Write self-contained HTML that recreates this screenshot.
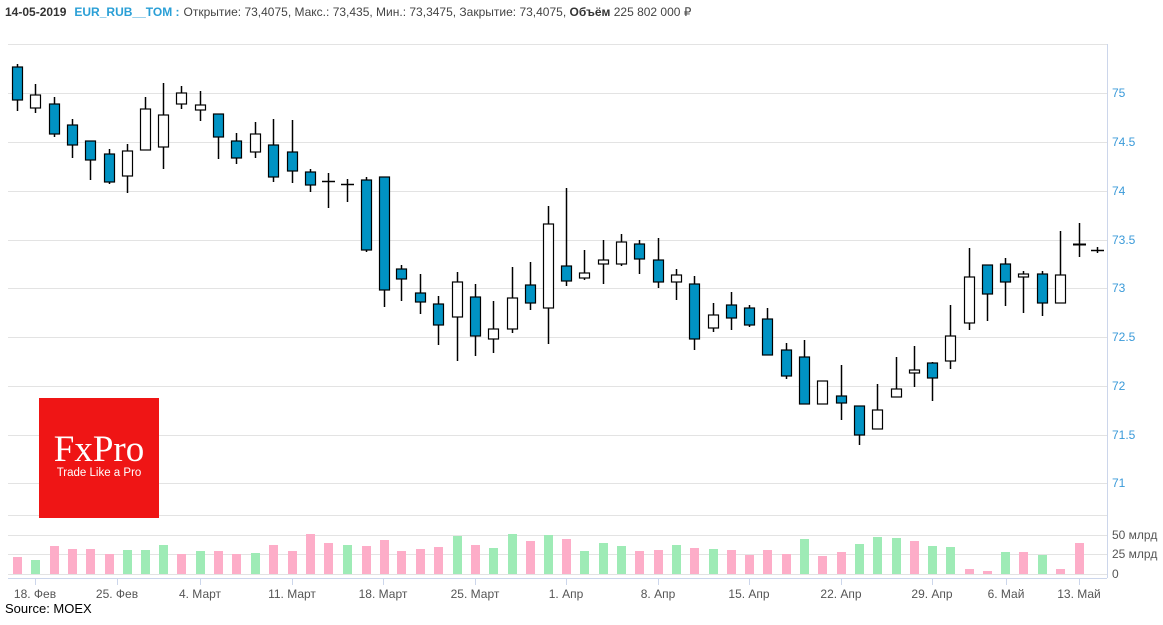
<!DOCTYPE html>
<html><head><meta charset="utf-8"><style>
body{margin:0;background:#fff;width:1163px;height:620px;overflow:hidden;font-family:"Liberation Sans",sans-serif}
</style></head><body>
<svg id="s" width="1163" height="620" xmlns="http://www.w3.org/2000/svg" font-family="Liberation Sans, sans-serif">
<text x="5" y="16" font-size="12" fill="#333"><tspan font-weight="bold">14-05-2019</tspan><tspan dx="8" font-weight="bold" fill="#2a9fd6">EUR_RUB__TOM :</tspan><tspan dx="4" fill="#444">Открытие: 73,4075, Макс.: 73,435, Мин.: 73,3475, Закрытие: 73,4075, </tspan><tspan font-weight="bold">Объём</tspan><tspan fill="#444"> 225 802 000 ₽</tspan></text>
<g id="grid" stroke="#e3e3e3" stroke-width="1"></g>
<line x1="1107.5" y1="44" x2="1107.5" y2="578" stroke="#ccd6eb"/>
<line x1="8" y1="578.5" x2="1107" y2="578.5" stroke="#ccd6eb"/>
<rect x="39" y="398" width="120" height="120" fill="#ef1515"/>
<text x="99" y="461" font-family="Liberation Serif, serif" font-size="37" fill="#fff" text-anchor="middle">FxPro</text>
<text x="99" y="476" font-size="11.5" fill="#fff" text-anchor="middle">Trade Like a Pro</text>
<g id="vol"></g>
<g id="c"></g>
<g id="lab" font-size="12" fill="#3a9ad9"></g>
<text x="5" y="613" font-size="13" fill="#000">Source: MOEX</text>
</svg>
<script>
var NS="http://www.w3.org/2000/svg";
function el(p,t,a,txt){var e=document.createElementNS(NS,t);for(var k in a)e.setAttribute(k,a[k]);if(txt)e.textContent=txt;document.getElementById(p).appendChild(e);return e;}
var gy=[44,93,142,191,240,288,337,386,435,483];
gy.forEach(function(y){el('grid','line',{x1:8,y1:y+.5,x2:1107,y2:y+.5});});
[515,535,554,574].forEach(function(y){el('grid','line',{x1:8,y1:y+.5,x2:1107,y2:y+.5});});
var pl=[["75",93],["74.5",142],["74",191],["73.5",240],["73",288],["72.5",337],["72",386],["71.5",435],["71",483]];
pl.forEach(function(p){el('lab','text',{x:1112,y:p[1]+4},p[0]);});
[["50 млрд",535],["25 млрд",554],["0",574]].forEach(function(p){el('lab','text',{x:1112,y:p[1]+4,fill:"#555"},p[0]);});
var xt=[["18. Фев",35],["25. Фев",117],["4. Март",200],["11. Март",292],["18. Март",383],["25. Март",475],["1. Апр",566],["8. Апр",658],["15. Апр",749],["22. Апр",841],["29. Апр",932],["6. Май",1006],["13. Май",1079]];
xt.forEach(function(t){el('lab','line',{x1:t[1]+.5,y1:578,x2:t[1]+.5,y2:585,stroke:"#ccd6eb"});el('lab','text',{x:t[1],y:598,"text-anchor":"middle",fill:"#555"},t[0]);});
var C=[[17,64,111,67,100,'b'],[35,84,113,95,108,'w'],[54,97,137,104,134,'b'],[72,119,158,125,145,'b'],[90,141,180,141,160,'b'],[109,149,184,154,182,'b'],[127,144,193,151,176,'w'],[145,97,150,109,150,'w'],[163,83,169,115,147,'w'],[181,86,109,93,104,'w'],[200,91,121,105,110,'w'],[218,114,159,114,137,'b'],[236,133,164,141,158,'b'],[255,122,158,134,152,'w'],[273,119,182,145,177,'b'],[292,120,183,152,171,'b'],[310,169,192,172,185,'b'],[328,173,208,181,181,'d'],[347,179,202,184,184,'d'],[366,177,252,180,250,'b'],[384,177,307,177,290,'b'],
[401,265,301,269,279,'b'],[420,274,314,293,302,'b'],[438,296,345,304,325,'b'],[457,272,361,282,317,'w'],[475,284,356,297,336,'b'],[493,301,353,329,339,'w'],[512,267,333,298,329,'w'],[530,262,310,285,303,'b'],[548,206,344,224,308,'w'],[566,188,286,266,281,'b'],[584,250,280,273,278,'w'],[603,240,284,260,264,'w'],[621,234,266,242,264,'w'],[639,240,274,244,259,'b'],[658,238,288,260,282,'b'],[676,269,300,275,282,'w'],[694,276,350,284,339,'b'],[713,303,332,315,328,'w'],[731,292,330,305,318,'b'],[749,305,327,308,325,'b'],[767,308,355,319,355,'b'],[786,343,379,350,376,'b'],[804,340,404,357,404,'b'],[822,381,404,381,404,'w'],[841,365,420,396,403,'b'],[859,406,445,406,435,'b'],[877,384,429,410,429,'w'],[896,357,397,389,397,'w'],[914,346,387,370,373,'w'],[932,362,401,363,378,'b'],[950,305,369,336,361,'w'],[969,248,330,277,323,'w'],[987,265,321,265,294,'b'],[1005,258,306,264,282,'b'],[1023,271,313,274,277,'w'],[1042,271,316,274,303,'b'],[1060,231,303,275,303,'w'],[1079,223,257,244,244,'d'],[1097,247,253,250,250,'d']];
C.forEach(function(c){
 el('c','line',{x1:c[0]+.5,y1:c[1],x2:c[0]+.5,y2:c[2],stroke:"#000","stroke-width":1.5});
 if(c[5]=='d'){el('c','line',{x1:c[0]-6,y1:c[3]+.5,x2:c[0]+7,y2:c[3]+.5,stroke:"#000","stroke-width":c[0]==1079?2:1.5});}
 else el('c','rect',{x:c[0]-4.5,y:c[3],width:10,height:Math.max(c[4]-c[3],3),fill:c[5]=='b'?"#0093c4":"#fff",stroke:"#000","stroke-width":1.2});
});
var VT=[557,560,546,549,549,554,550,550,545,554,551,551,554,553,545,551,534,543,545,546,540,551,549,547,536,545,548,534,541,535,539,551,543,546,551,550,545,548,549,550,555,550,554,539,556,552,544,537,538,541,546,547,569,571,552,552,555,569,543];
var VC="pgppppgggpgppgppppgpppppgpggpgpgggppgpgppppgppgggpggppgpgp";
VT.forEach(function(t,i){el('vol','rect',{x:C[i][0]-4,y:t,width:9,height:574-t,fill:VC[i]=='g'?"#9eebb6":"#fdadc8"});});
</script>
</body></html>
